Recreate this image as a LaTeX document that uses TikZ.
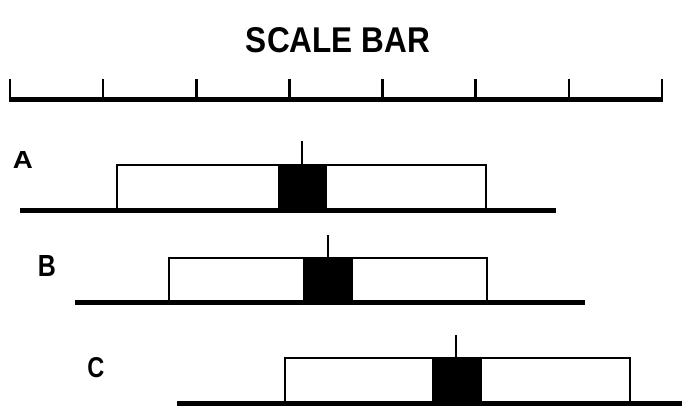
\documentclass[tikz,border=0pt]{standalone}
\usepackage{fontspec}
\setmainfont{Liberation Sans}
\usepackage{graphicx}
\usetikzlibrary{calc}
\tikzset{
  base/.style={line width=5pt, line cap=butt},
  outline/.style={line width=2.8pt, line join=miter},
  tickmark/.style={line width=2.6pt},
  blk/.style={fill=black, draw=none},
  lbl/.style={inner sep=0pt}
}
\begin{document}
\begin{tikzpicture}[x=1pt, y=-1pt]
\useasboundingbox (0,0) rectangle (682,407);
% title
\node[inner sep=0pt] (title) at (338,40.5) {\resizebox{184pt}{25pt}{\bfseries SCALE BAR}};
% scale bar
\coordinate (sbL) at (10,99);
\coordinate (sbR) at (662,99);
\draw[base] ($(sbL)+(-1.3,0)$) -- ($(sbR)+(1.3,0)$);
\foreach \i in {0,...,7} {
  \draw[tickmark] ({10+\i*93.14},99) -- ({10+\i*93.14},79);
}
% row A
\node[lbl] (labA) at (23,160) {\resizebox{20pt}{17pt}{\bfseries A}};
\draw[outline] (117,211) -- (117,165) -- (486,165) -- (486,211);
\fill[blk] (278,165) rectangle (327,210);
\draw[tickmark] (302,165) -- (302,141);
\draw[base] (20,210) -- (556,210);
% row B
\node[lbl] (labB) at (47,266) {\resizebox{18pt}{21pt}{\bfseries B}};
\draw[outline] (169,303) -- (169,258) -- (487,258) -- (487,303);
\fill[blk] (303,258) rectangle (353,302);
\draw[tickmark] (328,258) -- (328,235);
\draw[base] (75,302) -- (585,302);
% row C
\node[lbl] (labC) at (96,368) {\resizebox{17pt}{20pt}{\bfseries C}};
\draw[outline] (285,404) -- (285,358) -- (630,358) -- (630,404);
\fill[blk] (432,358) rectangle (482,403);
\draw[tickmark] (456,358) -- (456,335);
\draw[base] (177,403) -- (682,403);
\end{tikzpicture}
\end{document}
